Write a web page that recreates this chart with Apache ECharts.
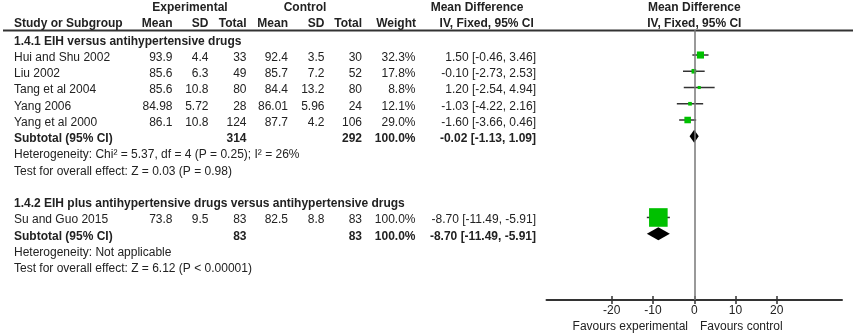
<!DOCTYPE html>
<html>
<head>
<meta charset="utf-8">
<script src="https://cdn.jsdelivr.net/npm/echarts@6/dist/echarts.min.js"></script>
<style>
  html, body { margin: 0; padding: 0; background: #fff; }
  #chart { width: 856px; height: 336px; }
</style>
</head>
<body>
<div id="chart"></div>
<script>
// study level data
const studies = ['Hui and Shu 2002', 'Liu 2002', 'Tang et al 2004', 'Yang 2006', 'Yang et al 2000', 'Su and Guo 2015']
const studyRows = [1, 2, 3, 4, 5, 11]
const expMean = [93.9, 85.6, 85.6, 84.98, 86.1, 73.8]
const expSD = [4.4, 6.3, 10.8, 5.72, 10.8, 9.5]
const expTotal = [33, 49, 80, 28, 124, 83]
const ctlMean = [92.4, 85.7, 84.4, 86.01, 87.7, 82.5]
const ctlSD = [3.5, 7.2, 13.2, 5.96, 4.2, 8.8]
const ctlTotal = [30, 52, 80, 24, 106, 83]
const weights = [32.3, 17.8, 8.8, 12.1, 29.0, 100.0]
const md = [1.50, -0.10, 1.20, -1.03, -1.60, -8.70]
const ciLow = [-0.46, -2.73, -2.54, -4.22, -3.66, -11.49]
const ciHigh = [3.46, 2.53, 4.94, 2.16, 0.46, -5.91]

// subgroups
const subgroupTitles = ['1.4.1 EIH versus antihypertensive drugs', '1.4.2 EIH plus antihypertensive drugs versus antihypertensive drugs']
const subgroupRows = [0, 10]
const subtotalRows = [6, 12]
const subtotalExp = [314, 83]
const subtotalCtl = [292, 83]
const subtotalWeight = [100.0, 100.0]
const subtotalMD = [-0.02, -8.70]
const subtotalLow = [-1.13, -11.49]
const subtotalHigh = [1.09, -5.91]
const noteRows = [7, 8, 13, 14]
const notes = [
  'Heterogeneity: Chi² = 5.37, df = 4 (P = 0.25); I² = 26%',
  'Test for overall effect: Z = 0.03 (P = 0.98)',
  'Heterogeneity: Not applicable',
  'Test for overall effect: Z = 6.12 (P < 0.00001)',
]
const tickValues = [-20, -10, 0, 10, 20]

const FONT = "'Liberation Sans', Arial, sans-serif"
const TXT = '#222'
const GREEN = '#00c000'

// column anchors of the table (pixels)
const col = { study: 14, eMean: 172.5, eSD: 208.5, eN: 246.5, cMean: 288, cSD: 324.5, cN: 362, w: 415.5, md: 536 }

const ciText = (v, lo, hi) => `${v.toFixed(2)} [${lo.toFixed(2)}, ${hi.toFixed(2)}]`

const cells = []
const addCell = (x, row, text, align, bold) => cells.push({ x, row, text: String(text), align, bold })

subgroupTitles.forEach((t, i) => addCell(col.study, subgroupRows[i], t, 'left', true))
studies.forEach((s, i) => {
  const r = studyRows[i]
  addCell(col.study, r, s, 'left', false)
  addCell(col.eMean, r, expMean[i], 'right', false)
  addCell(col.eSD, r, expSD[i], 'right', false)
  addCell(col.eN, r, expTotal[i], 'right', false)
  addCell(col.cMean, r, ctlMean[i], 'right', false)
  addCell(col.cSD, r, ctlSD[i], 'right', false)
  addCell(col.cN, r, ctlTotal[i], 'right', false)
  addCell(col.w, r, weights[i].toFixed(1) + '%', 'right', false)
  addCell(col.md, r, ciText(md[i], ciLow[i], ciHigh[i]), 'right', false)
})
subtotalRows.forEach((r, i) => {
  addCell(col.study, r, 'Subtotal (95% CI)', 'left', true)
  addCell(col.eN, r, subtotalExp[i], 'right', true)
  addCell(col.cN, r, subtotalCtl[i], 'right', true)
  addCell(col.w, r, subtotalWeight[i].toFixed(1) + '%', 'right', true)
  addCell(col.md, r, ciText(subtotalMD[i], subtotalLow[i], subtotalHigh[i]), 'right', true)
})
notes.forEach((n, i) => addCell(col.study, noteRows[i], n, 'left', false))

const yAxisCfg = (gridIndex) => ({
  gridIndex, type: 'value', inverse: true, min: -0.54, max: 16.08, show: false,
})

const headerText = (x, y, text, align) => ({
  type: 'text', x, y,
  style: { text, align, verticalAlign: 'middle', font: `bold 12px ${FONT}`, fill: TXT },
})

const chart = echarts.init(document.getElementById('chart'), null, { renderer: 'canvas' })

chart.setOption({
  animation: false,
  backgroundColor: '#fff',
  grid: [
    { left: 0, top: 30, width: 546, height: 270 },
    { left: 546.5, top: 30, width: 295.5, height: 270 },
  ],
  xAxis: [
    { gridIndex: 0, type: 'value', min: 0, max: 546, show: false },
    {
      gridIndex: 1, type: 'value', min: -35.8, max: 35.8, position: 'bottom',
      splitLine: { show: false },
      axisLine: { onZero: false, lineStyle: { color: '#333', width: 2 } },
      axisTick: { length: 4, customValues: tickValues, lineStyle: { color: '#333', width: 1.5 } },
      axisLabel: { customValues: tickValues, margin: 5, color: TXT, fontSize: 12, fontFamily: FONT },
    },
    {
      gridIndex: 1, type: 'value', min: -35.8, max: 35.8, position: 'bottom',
      splitLine: { show: false },
      axisLine: { show: false, onZero: false },
      axisTick: { inside: true, length: 4, customValues: tickValues, lineStyle: { color: '#333', width: 1.5 } },
      axisLabel: { show: false },
    },
  ],
  yAxis: [yAxisCfg(0), yAxisCfg(1)],
  graphic: [
    { type: 'line', shape: { x1: 3, y1: 30.5, x2: 853, y2: 30.5 }, style: { stroke: '#333', lineWidth: 2 } },
    headerText(190, 8, 'Experimental', 'center'),
    headerText(305, 8, 'Control', 'center'),
    headerText(477, 8, 'Mean Difference', 'center'),
    headerText(694.3, 8, 'Mean Difference', 'center'),
    headerText(col.study, 24, 'Study or Subgroup', 'left'),
    headerText(col.eMean, 24, 'Mean', 'right'),
    headerText(col.eSD, 24, 'SD', 'right'),
    headerText(col.eN, 24, 'Total', 'right'),
    headerText(col.cMean, 24, 'Mean', 'right'),
    headerText(col.cSD, 24, 'SD', 'right'),
    headerText(col.cN, 24, 'Total', 'right'),
    headerText(416, 24, 'Weight', 'right'),
    headerText(486.7, 24, 'IV, Fixed, 95% CI', 'center'),
    headerText(694.3, 24, 'IV, Fixed, 95% CI', 'center'),
    {
      type: 'text', x: 688, y: 327,
      style: { text: 'Favours experimental', align: 'right', verticalAlign: 'middle', font: `12px ${FONT}`, fill: TXT },
    },
    {
      type: 'text', x: 700, y: 327,
      style: { text: 'Favours control', align: 'left', verticalAlign: 'middle', font: `12px ${FONT}`, fill: TXT },
    },
  ],
  series: [
    {
      // table text
      type: 'custom',
      xAxisIndex: 0, yAxisIndex: 0,
      silent: true, clip: false,
      data: cells.map(c => [c.x, c.row]),
      renderItem: (params, api) => {
        const c = cells[params.dataIndex]
        const p = api.coord([c.x, c.row])
        return {
          type: 'text', x: p[0], y: p[1] + 2.5,
          style: {
            text: c.text, align: c.align, verticalAlign: 'middle',
            font: `${c.bold ? 'bold ' : ''}12px ${FONT}`, fill: TXT,
          },
        }
      },
    },
    {
      // study CIs and weighted squares
      type: 'custom',
      xAxisIndex: 1, yAxisIndex: 1,
      silent: true, clip: false,
      data: studies.map((s, i) => [md[i], studyRows[i], ciLow[i], ciHigh[i], weights[i]]),
      renderItem: (params, api) => {
        const mid = api.coord([api.value(0), api.value(1)])
        const lo = api.coord([api.value(2), api.value(1)])
        const hi = api.coord([api.value(3), api.value(1)])
        const size = 1.6 + 0.17 * api.value(4)
        return {
          type: 'group',
          children: [
            { type: 'line', shape: { x1: lo[0], y1: mid[1], x2: hi[0], y2: mid[1] }, style: { stroke: '#333', lineWidth: 1.5 } },
            { type: 'rect', shape: { x: mid[0] - size / 2, y: mid[1] - size / 2, width: size, height: size }, style: { fill: GREEN } },
          ],
        }
      },
      markLine: {
        silent: true, symbol: 'none', label: { show: false },
        lineStyle: { color: '#777', width: 1.5, type: 'solid' },
        data: [{ xAxis: 0 }],
      },
    },
    {
      // subtotal diamonds
      type: 'custom',
      xAxisIndex: 1, yAxisIndex: 1,
      silent: true, clip: false,
      data: subtotalRows.map((r, i) => [subtotalMD[i], r, subtotalLow[i], subtotalHigh[i]]),
      renderItem: (params, api) => {
        const mid = api.coord([api.value(0), api.value(1)])
        const lo = api.coord([api.value(2), api.value(1)])
        const hi = api.coord([api.value(3), api.value(1)])
        const h = 6.5
        return {
          type: 'polygon',
          shape: { points: [[lo[0], mid[1]], [mid[0], mid[1] - h], [hi[0], mid[1]], [mid[0], mid[1] + h]] },
          style: { fill: '#000' },
        }
      },
    },
  ],
})
</script>
</body>
</html>
